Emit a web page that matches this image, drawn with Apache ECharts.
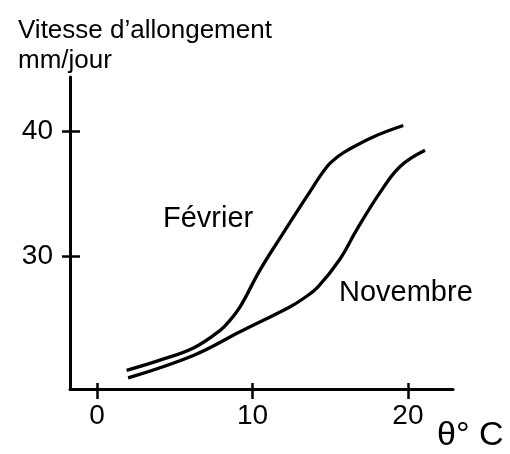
<!DOCTYPE html>
<html><head><meta charset="utf-8">
<script src="https://cdn.jsdelivr.net/npm/echarts@6/dist/echarts.min.js"></script>
<style>html,body{margin:0;padding:0;background:#fff}#c{width:510px;height:454px}</style>
</head><body><div id="c"></div>
<script>
const fevrierX = [1.9, 4.0, 6.2, 7.9, 8.6, 9.2, 10.5, 11.8, 13.5, 14.8, 15.5, 16.1, 17.8, 19.7];
const fevrierY = [20.8, 21.6, 22.6, 24.0, 24.9, 25.9, 28.9, 31.5, 34.8, 37.2, 38.0, 38.5, 39.6, 40.5];
const novembreX = [2.0, 6.2, 9.2, 12.4, 13.3, 14.2, 15.6, 16.7, 18.2, 19.5, 21.1];
const novembreY = [20.2, 22.0, 23.9, 25.9, 26.6, 27.5, 29.7, 32.1, 35.1, 37.2, 38.5];
const xTicks = [0, 10, 20];
const yTicks = [30, 40];
const xMin = -1.74, xMax = 22.9, yMin = 19.3, yMax = 44.4;

const FONT = 'Liberation Sans';
const chart = echarts.init(document.getElementById('c'));
const pairs = (xs, ys) => xs.map((x, i) => [x, ys[i]]);
const axisLineStyle = {show: true, onZero: false, lineStyle: {color: '#000', width: 3}};

chart.setOption({
  animation: false,
  backgroundColor: '#fff',
  grid: {left: 70, right: 57, top: 77, bottom: 65, containLabel: false},
  xAxis: [
    {type: 'value', min: xMin, max: xMax, position: 'bottom', splitLine: {show: false},
     axisLine: axisLineStyle,
     axisTick: {show: true, customValues: xTicks, length: 10, inside: false, lineStyle: {color: '#000', width: 2.5}},
     axisLabel: {show: true, customValues: xTicks, margin: 13, color: '#000', fontSize: 28, fontFamily: FONT}},
    {type: 'value', min: xMin, max: xMax, position: 'bottom', offset: 0, splitLine: {show: false},
     axisLine: {show: false, onZero: false},
     axisTick: {show: true, customValues: xTicks, length: 6, inside: true, lineStyle: {color: '#000', width: 2.5}},
     axisLabel: {show: false}}
  ],
  yAxis: [
    {type: 'value', min: yMin, max: yMax, position: 'left', splitLine: {show: false},
     axisLine: axisLineStyle,
     axisTick: {show: true, customValues: yTicks, length: 8, inside: false, lineStyle: {color: '#000', width: 2.5}},
     axisLabel: {show: true, customValues: yTicks, margin: 17, color: '#000', fontSize: 28, fontFamily: FONT,
                 verticalAlign: 'middle', padding: [0, 0, 18, 0]}},
    {type: 'value', min: yMin, max: yMax, position: 'left', offset: 0, splitLine: {show: false},
     axisLine: {show: false, onZero: false},
     axisTick: {show: true, customValues: yTicks, length: 10, inside: true, lineStyle: {color: '#000', width: 2.5}},
     axisLabel: {show: false}}
  ],
  series: [
    {name: 'Février', type: 'line', xAxisIndex: 0, yAxisIndex: 0, data: pairs(fevrierX, fevrierY),
     smooth: 0.4, showSymbol: false, lineStyle: {color: '#000', width: 3.3}},
    {name: 'Novembre', type: 'line', xAxisIndex: 0, yAxisIndex: 0, data: pairs(novembreX, novembreY),
     smooth: 0.4, showSymbol: false, lineStyle: {color: '#000', width: 3.3}}
  ],
  graphic: [
    {type: 'text', left: 18, top: 18, style: {text: "Vitesse d\u2019allongement", font: '26px "' + FONT + '"', fill: '#000'}},
    {type: 'text', left: 18, top: 48, style: {text: 'mm/jour', font: '26px "' + FONT + '"', fill: '#000'}},
    {type: 'text', left: 163, top: 204, style: {text: 'Février', font: '29px "' + FONT + '"', fill: '#000'}},
    {type: 'text', left: 339, top: 278, style: {text: 'Novembre', font: '29px "' + FONT + '"', fill: '#000'}},
    {type: 'text', left: 437, top: 419, style: {text: 'θ° C', font: '34px "' + FONT + '"', fill: '#000'}}
  ]
});
</script></body></html>
